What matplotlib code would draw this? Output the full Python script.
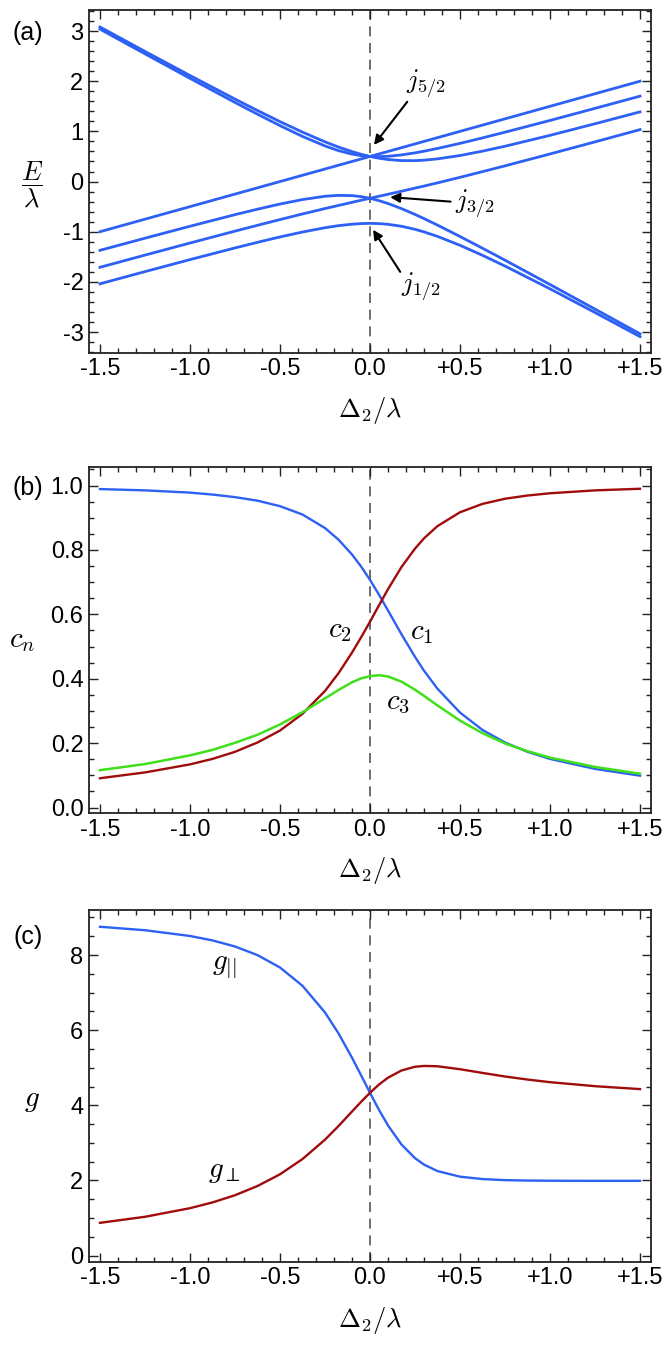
import matplotlib
matplotlib.use("Agg")
import matplotlib.pyplot as plt
from matplotlib.ticker import MultipleLocator, FixedLocator, FixedFormatter

plt.rcParams['font.family'] = ['Liberation Sans', 'DejaVu Sans']
plt.rcParams['mathtext.fontset'] = 'cm'
plt.rcParams['axes.unicode_minus'] = False

# ---- panel (a): energy levels E/lambda vs Delta2/lambda ----
xa = [-1.5, -1.25, -1.0, -0.75, -0.625, -0.5, -0.375, -0.25, -0.175, -0.1, -0.05, 0.0,
      0.05, 0.1, 0.175, 0.25, 0.3, 0.375, 0.5, 0.625, 0.75, 1.0, 1.25, 1.5]
e_stretch = [-1.0, -0.75, -0.5, -0.25, -0.125, 0.0, 0.125, 0.25, 0.325, 0.4, 0.45, 0.5,
             0.55, 0.6, 0.675, 0.75, 0.8, 0.875, 1.0, 1.125, 1.25, 1.5, 1.75, 2.0]
e32_up = [3.038, 2.546, 2.058, 1.577, 1.343, 1.115, 0.900, 0.710, 0.617, 0.547, 0.517, 0.500,
          0.496, 0.504, 0.531, 0.572, 0.605, 0.660, 0.761, 0.870, 0.984, 1.218, 1.459, 1.702]
e32_lo = [-1.371, -1.129, -0.891, -0.660, -0.551, -0.448, -0.359, -0.293, -0.275, -0.280,
          -0.300, -0.333, -0.380, -0.437, -0.539, -0.655, -0.738, -0.868, -1.095, -1.329,
          -1.567, -2.052, -2.542, -3.035]
e12_top = [3.081, 2.594, 2.114, 1.644, 1.416, 1.195, 0.985, 0.792, 0.688, 0.597, 0.544, 0.500,
           0.465, 0.439, 0.418, 0.417, 0.426, 0.452, 0.519, 0.606, 0.704, 0.921, 1.152, 1.389]
e12_mid = [-1.709, -1.466, -1.225, -0.988, -0.872, -0.758, -0.646, -0.538, -0.476, -0.414,
           -0.373, -0.333, -0.293, -0.253, -0.193, -0.131, -0.090, -0.026, 0.084, 0.198,
           0.313, 0.550, 0.791, 1.035]
e12_bot = [-2.038, -1.795, -1.556, -1.323, -1.211, -1.104, -1.006, -0.920, -0.879, -0.850,
           -0.838, -0.833, -0.838, -0.852, -0.891, -0.952, -1.003, -1.093, -1.270, -1.470,
           -1.684, -2.138, -2.610, -3.091]

# ---- panels (b) and (c): coefficients and g factors ----
xb = [-1.5, -1.25, -1.0, -0.875, -0.75, -0.625, -0.5, -0.375, -0.25, -0.175, -0.1, -0.05,
      0.0, 0.05, 0.1, 0.175, 0.25, 0.3, 0.375, 0.5, 0.625, 0.75, 0.875, 1.0, 1.25, 1.5]
c1 = [0.989, 0.985, 0.978, 0.972, 0.964, 0.953, 0.936, 0.910, 0.868, 0.832, 0.786, 0.749,
      0.707, 0.661, 0.612, 0.538, 0.468, 0.425, 0.369, 0.295, 0.241, 0.202, 0.173, 0.151,
      0.120, 0.099]
c2 = [0.091, 0.109, 0.134, 0.151, 0.173, 0.202, 0.239, 0.291, 0.362, 0.417, 0.481, 0.528,
      0.577, 0.628, 0.678, 0.747, 0.804, 0.836, 0.874, 0.917, 0.943, 0.959, 0.969, 0.976,
      0.985, 0.990]
c3 = [0.116, 0.135, 0.162, 0.179, 0.201, 0.226, 0.258, 0.296, 0.339, 0.365, 0.389, 0.401,
      0.408, 0.411, 0.407, 0.391, 0.366, 0.347, 0.317, 0.270, 0.231, 0.199, 0.175, 0.155,
      0.126, 0.105]
g_par = [8.753, 8.661, 8.508, 8.390, 8.228, 7.999, 7.669, 7.182, 6.473, 5.916, 5.268, 4.804,
         4.333, 3.878, 3.465, 2.956, 2.593, 2.422, 2.249, 2.100, 2.036, 2.008, 1.997, 1.992,
         1.989, 1.990]
g_perp = [0.871, 1.032, 1.261, 1.414, 1.606, 1.851, 2.163, 2.569, 3.085, 3.447, 3.834, 4.090,
          4.333, 4.553, 4.735, 4.927, 5.026, 5.048, 5.039, 4.961, 4.862, 4.767, 4.686, 4.616,
          4.509, 4.431]

x_ticks = [-1.5, -1.0, -0.5, 0.0, 0.5, 1.0, 1.5]
x_ticklabels = ['-1.5', '-1.0', '-0.5', '0.0', '+0.5', '+1.0', '+1.5']

BLUE = '#2d60f4'
RED = '#a00c0c'
GREEN = '#3fe01a'
FRAME = '#222222'
TICK_FS = 17


def style_axes(ax, ylim, yticks, yticklabels, yminor):
    ax.set_xlim(-1.561, 1.561)
    ax.set_ylim(*ylim)
    ax.xaxis.set_major_locator(FixedLocator(x_ticks))
    ax.xaxis.set_major_formatter(FixedFormatter(x_ticklabels))
    ax.xaxis.set_minor_locator(MultipleLocator(0.1))
    ax.yaxis.set_major_locator(FixedLocator(yticks))
    ax.yaxis.set_major_formatter(FixedFormatter(yticklabels))
    ax.yaxis.set_minor_locator(MultipleLocator(yminor))
    ax.tick_params(which='both', direction='in', top=True, right=True,
                   color=FRAME, width=1.0)
    ax.tick_params(which='major', length=6.5, labelsize=TICK_FS, pad=4)
    ax.tick_params(which='minor', length=3.5)
    for sp in ax.spines.values():
        sp.set_linewidth(1.3)
        sp.set_color(FRAME)
    ax.axvline(0.0, color='#555555', lw=1.2, ls=(0, (6.0, 4.0)), zorder=1)


fig = plt.figure(figsize=(6.64, 13.6), dpi=100)

# (a)
ax_a = fig.add_axes([0.1340, 0.7407, 0.8464, 0.2516])
for e in (e_stretch, e32_up, e32_lo, e12_top, e12_mid, e12_bot):
    ax_a.plot(xa, e, color=BLUE, lw=2.0, zorder=3, solid_joinstyle='round')
style_axes(ax_a, (-3.41, 3.41), [-3, -2, -1, 0, 1, 2, 3],
           ['-3', '-2', '-1', '0', '1', '2', '3'], 0.2)

arrow = dict(arrowstyle='-|>', color='black', lw=1.5, mutation_scale=14,
             shrinkA=0, shrinkB=0)
ax_a.annotate('', xy=(0.022, 0.73), xytext=(0.207, 1.59), arrowprops=arrow)
ax_a.text(0.31, 1.95, r'$j_{5/2}$', fontsize=19, ha='center', va='center')
ax_a.annotate('', xy=(0.112, -0.31), xytext=(0.448, -0.40), arrowprops=arrow)
ax_a.text(0.585, -0.45, r'$j_{3/2}$', fontsize=19, ha='center', va='center')
ax_a.annotate('', xy=(0.017, -0.96), xytext=(0.168, -1.80), arrowprops=arrow)
ax_a.text(0.285, -2.10, r'$j_{1/2}$', fontsize=19, ha='center', va='center')

# (b)
ax_b = fig.add_axes([0.1340, 0.4022, 0.8464, 0.2544])
ax_b.plot(xb, c1, color=BLUE, lw=1.7, zorder=3, solid_joinstyle='round')
ax_b.plot(xb, c2, color=RED, lw=1.7, zorder=3, solid_joinstyle='round')
ax_b.plot(xb, c3, color=GREEN, lw=1.8, zorder=3, solid_joinstyle='round')
style_axes(ax_b, (-0.017, 1.0575), [0.0, 0.2, 0.4, 0.6, 0.8, 1.0],
           ['0.0', '0.2', '0.4', '0.6', '0.8', '1.0'], 0.05)
ax_b.text(-0.168, 0.551, r'$c_2$', fontsize=21, ha='center', va='center')
ax_b.text(0.285, 0.545, r'$c_1$', fontsize=21, ha='center', va='center')
ax_b.text(0.157, 0.328, r'$c_3$', fontsize=21, ha='center', va='center')

# (c)
ax_c = fig.add_axes([0.1340, 0.0721, 0.8464, 0.2588])
ax_c.plot(xb, g_par, color=BLUE, lw=1.7, zorder=3, solid_joinstyle='round')
ax_c.plot(xb, g_perp, color=RED, lw=1.7, zorder=3, solid_joinstyle='round')
style_axes(ax_c, (-0.17, 9.2), [0, 2, 4, 6, 8],
           ['0', '2', '4', '6', '8'], 0.5)
ax_c.text(-0.81, 7.66, r'$g_{||}$', fontsize=21, ha='center', va='center')
ax_c.text(-0.81, 2.24, r'$g_{\perp}$', fontsize=21, ha='center', va='center')

# panel letters, axis labels
W, H = 664.0, 1360.0
for label, ypx in (('(a)', 33), ('(b)', 488), ('(c)', 937)):
    fig.text(28 / W, 1 - ypx / H, label, fontsize=18, ha='center', va='center')

fig.text(32 / W, 1 - 184 / H, r'$\dfrac{E}{\lambda}$', fontsize=19,
         ha='center', va='center')
fig.text(22 / W, 1 - 640 / H, r'$c_n$', fontsize=21, ha='center', va='center')
fig.text(32 / W, 1 - 1100 / H, r'$g$', fontsize=21, ha='center', va='center')

for ypx in (410, 870, 1320):
    fig.text(370 / W, 1 - ypx / H, r'$\Delta_2/\lambda$', fontsize=19,
             ha='center', va='center')

fig.savefig('out.png', dpi=100)
